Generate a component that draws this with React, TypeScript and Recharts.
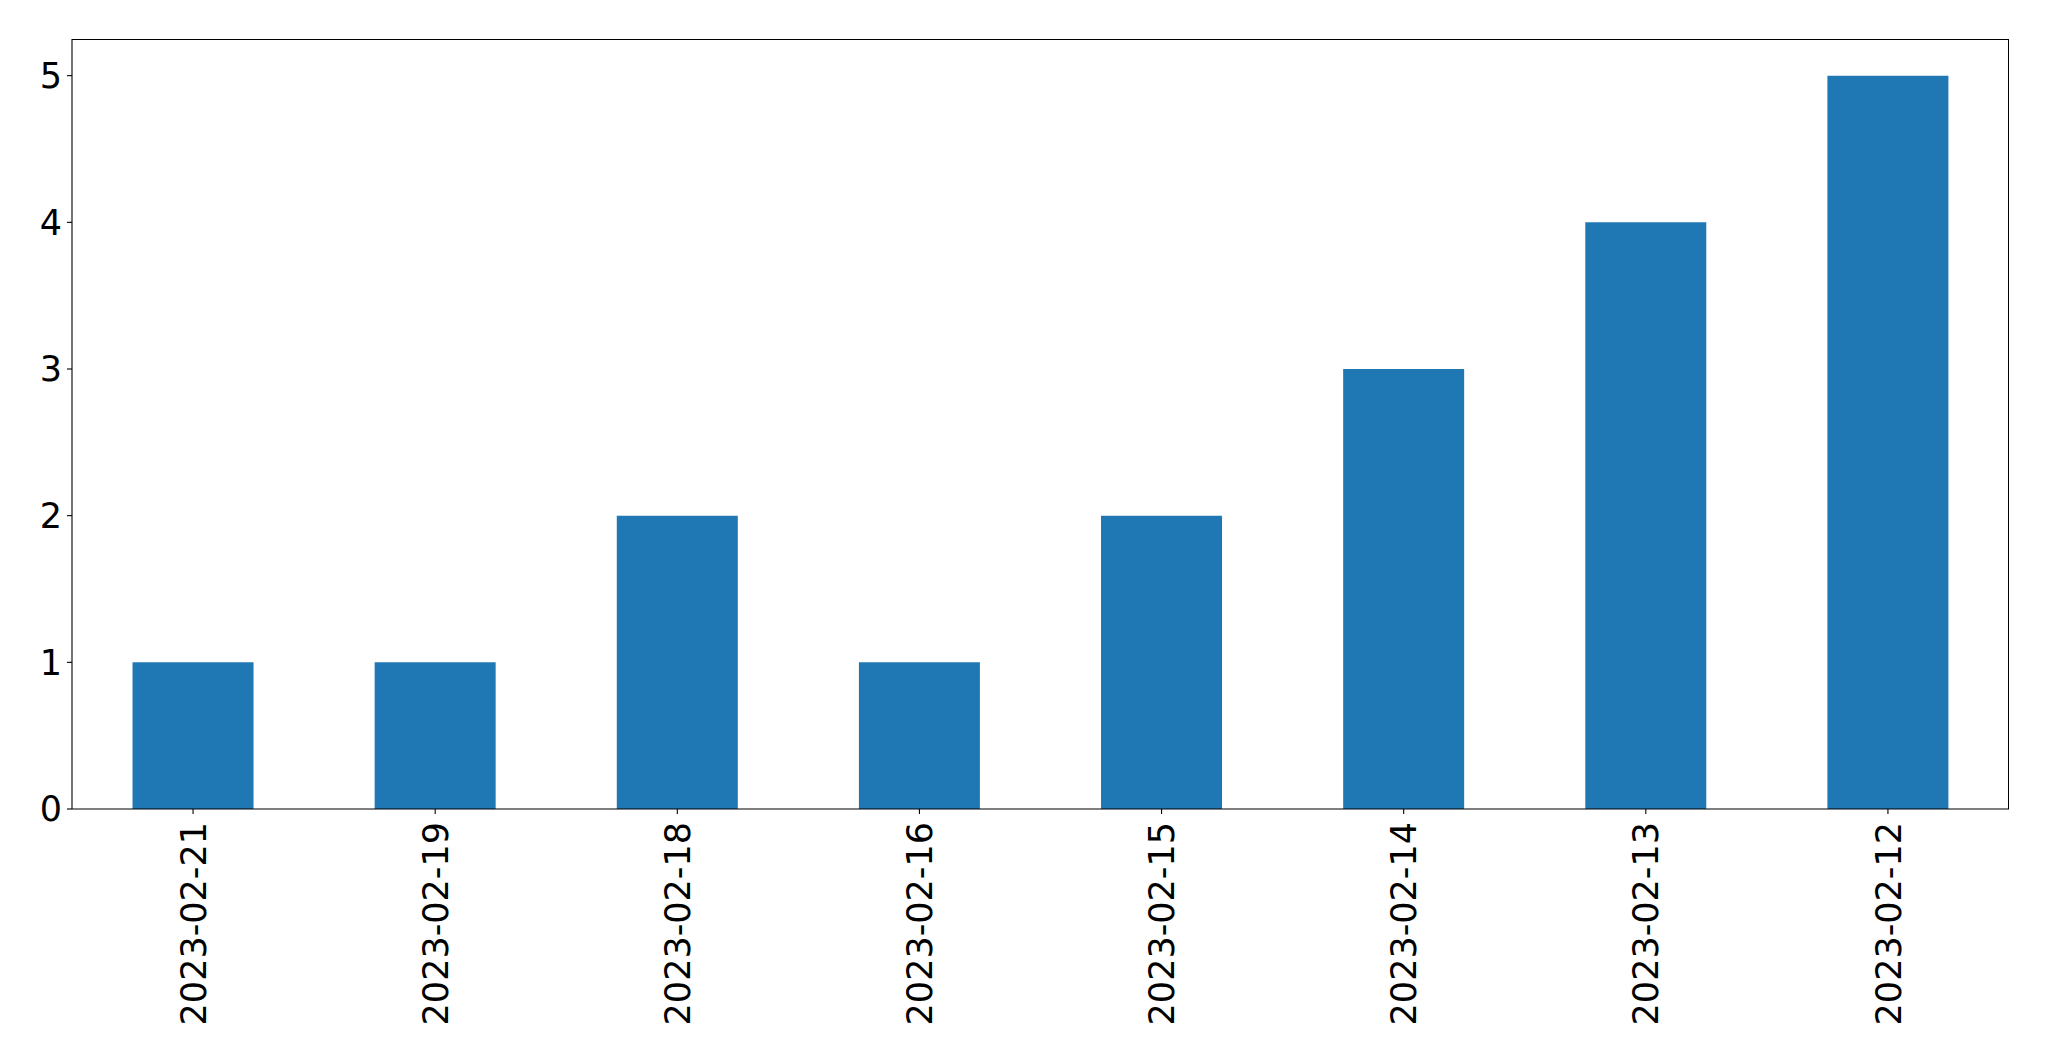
import React from 'react';
import { BarChart, Bar, XAxis, YAxis } from 'recharts';

const dates = ['2023-02-21', '2023-02-19', '2023-02-18', '2023-02-16', '2023-02-15', '2023-02-14', '2023-02-13', '2023-02-12'];
const counts = [1, 1, 2, 1, 2, 3, 4, 5];
const yTicks = [0, 1, 2, 3, 4, 5];

const FONT = 'DejaVu Sans, sans-serif';
const BLUE = '#1f77b4';
const FS = 35;

const chartData = dates.map((d, i) => ({ date: d, count: counts[i] }));

const DateTick = (props: any) => {
  const { x, y, payload } = props;
  return (
    <text
      x={x}
      y={y}
      transform={`rotate(-90, ${x}, ${y})`}
      textAnchor="end"
      dy="0.36em"
      fontSize={FS}
      fontFamily={FONT}
      fill="#000"
    >
      {payload.value}
    </text>
  );
};

const App: React.FC = () => {
  return (
    <div style={{ position: 'absolute', left: 0, top: 0, width: 2049, height: 1061, background: '#fff' }}>
      <BarChart
        width={2049}
        height={1061}
        data={chartData}
        margin={{ top: 39, right: 40, left: 0, bottom: 0 }}
        barCategoryGap="25%"
      >
        <XAxis
          dataKey="date"
          height={252}
          interval={0}
          tick={<DateTick />}
          tickSize={5}
          tickMargin={8}
          axisLine={{ stroke: '#000', strokeWidth: 1.1 }}
          tickLine={{ stroke: '#000', strokeWidth: 1.1 }}
        />
        <YAxis
          width={72}
          domain={[0, 5.25]}
          ticks={yTicks}
          type="number"
          tickSize={5}
          tickMargin={5}
          tick={{ fontSize: FS, fontFamily: FONT, fill: '#000' }}
          axisLine={{ stroke: '#000', strokeWidth: 1.1 }}
          tickLine={{ stroke: '#000', strokeWidth: 1.1 }}
        />
        <Bar dataKey="count" fill={BLUE} isAnimationActive={false} />
      </BarChart>
      {/* top and right spines of the axes frame */}
      <div
        style={{
          position: 'absolute',
          left: 72,
          top: 39,
          width: 1937,
          height: 770,
          borderTop: '1px solid #000',
          borderRight: '1px solid #000',
          boxSizing: 'border-box',
          pointerEvents: 'none',
        }}
      />
    </div>
  );
};

export default App;
